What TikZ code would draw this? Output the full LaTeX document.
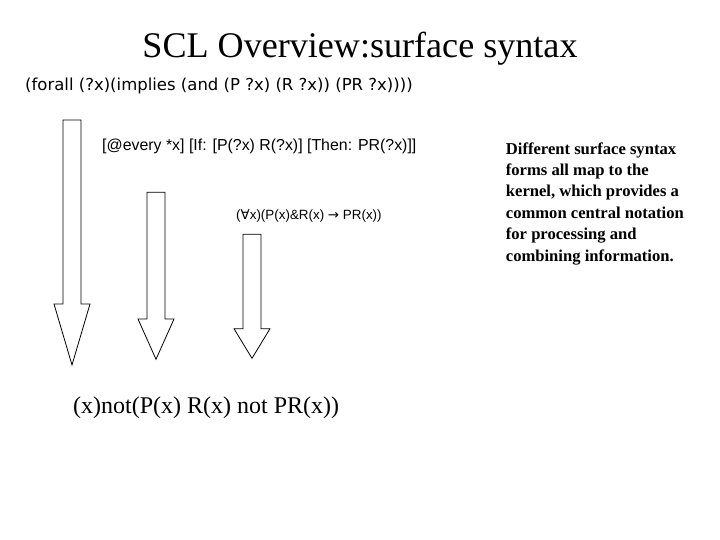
\documentclass[tikz,border=0pt]{standalone}
\usepackage{fontspec}
\setmainfont{Liberation Serif}
\newfontfamily\arialf{Liberation Sans}
\newfontfamily\comicf{DejaVu Sans}
\newfontfamily\symf{DejaVu Sans}
\newcommand{\dnarrow}[4]{%
  \draw[bigarrow] (#1-9,#2) -- (#1+9,#2) -- (#1+9,#3) -- (#1+18,#3) -- (#1,#4) -- (#1-18,#3) -- (#1-9,#3) -- cycle;}
\begin{document}
\begin{tikzpicture}[x=1pt,y=-1pt,
  txt/.style={inner sep=0pt,anchor=base west},
  bigarrow/.style={draw=black,line width=0.8pt,fill=white,line join=miter}]
\useasboundingbox (0,0) rectangle (720,540);
\node[inner sep=0pt,anchor=base] (title) at (360,57.3) {\fontsize{36.1}{40}\selectfont SCL Overview:surface syntax};
\node[txt] (kif) at (25,91) {\comicf\fontsize{16.5}{18}\selectfont (forall (?x)(implies (and (P ?x) (R ?x)) (PR ?x))))};
\dnarrow{72}{120}{304}{365}
\dnarrow{156}{192.3}{319}{359.3}
\dnarrow{252}{234.3}{328.7}{358.3}
\node[txt] (cgif) at (102,151) {\arialf\fontsize{15.9}{18}\selectfont [@every *x] [If: [P(?x) R(?x)] [Then: PR(?x)]]};
\node[txt] (fol) at (236,220) {\arialf\fontsize{13.4}{15}\selectfont ({\symf ∀}x)(P(x)\&R(x) {\symf →} PR(x))};
\node[txt] (neg) at (73,413) {\fontsize{24}{28}\selectfont (x)not(P(x) R(x) not PR(x))};
\node[txt,align=left,font=\bfseries\fontsize{16.6}{21.4}\selectfont] (note) at (505.7,261) {Different surface syntax\\forms all map to the\\kernel, which provides a\\common central notation\\for processing and\\combining information.};
\end{tikzpicture}
\end{document}
